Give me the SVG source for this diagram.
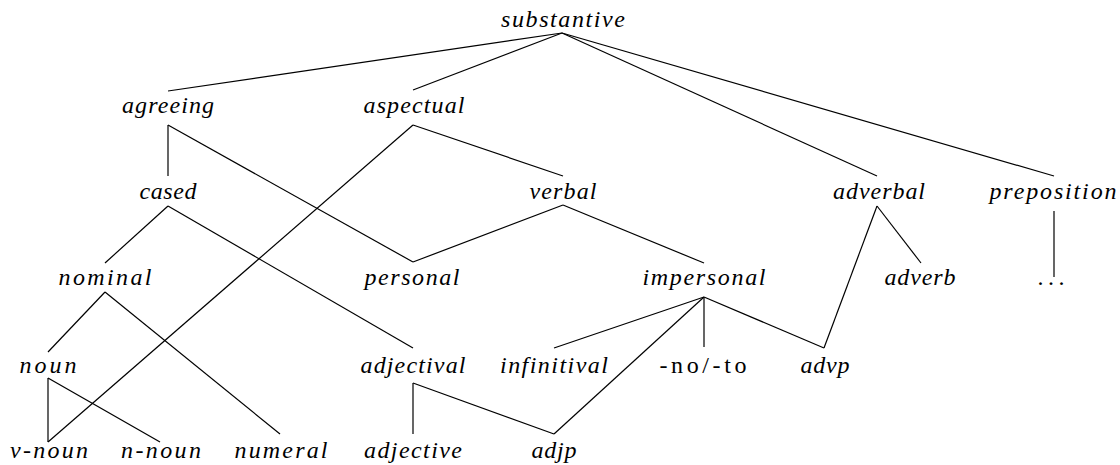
<svg xmlns="http://www.w3.org/2000/svg" width="1120" height="465" viewBox="0 0 1120 465">
<style>
text{font-family:"Liberation Serif","DejaVu Serif","Times New Roman",serif;font-size:24px;font-style:italic;fill:#000;text-anchor:middle}
text.rm{font-style:normal}
#edges line{stroke:#000;stroke-width:1.2;fill:none}
</style>
<rect width="1120" height="465" fill="#fff"/>
<g id="edges">
<line x1="562" y1="33" x2="168" y2="91"/>
<line x1="562" y1="33" x2="413" y2="90"/>
<line x1="562" y1="33" x2="877" y2="176"/>
<line x1="562" y1="33" x2="1054" y2="176"/>
<line x1="168" y1="125" x2="168" y2="176"/>
<line x1="168" y1="125" x2="413" y2="262"/>
<line x1="413" y1="125" x2="563" y2="176"/>
<line x1="413" y1="125" x2="48" y2="442"/>
<line x1="168" y1="206" x2="105" y2="263"/>
<line x1="168" y1="206" x2="413" y2="348"/>
<line x1="563" y1="205" x2="413" y2="262"/>
<line x1="563" y1="205" x2="704" y2="263"/>
<line x1="877" y1="206" x2="921" y2="263"/>
<line x1="877" y1="206" x2="824" y2="348"/>
<line x1="1054" y1="211" x2="1054" y2="277"/>
<line x1="105" y1="292" x2="48" y2="352"/>
<line x1="105" y1="292" x2="280" y2="434"/>
<line x1="704" y1="297" x2="554" y2="348"/>
<line x1="704" y1="297" x2="704" y2="347"/>
<line x1="704" y1="297" x2="824" y2="348"/>
<line x1="704" y1="297" x2="554" y2="434"/>
<line x1="48" y1="378" x2="48" y2="442"/>
<line x1="48" y1="378" x2="160" y2="442"/>
<line x1="413" y1="383" x2="413" y2="434"/>
<line x1="413" y1="383" x2="554" y2="434"/>
</g>
<g id="substantive"><text x="563" y="27" textLength="124" lengthAdjust="spacing">substantive</text></g>
<g id="agreeing"><text x="168" y="113" textLength="92" lengthAdjust="spacing">agreeing</text></g>
<g id="aspectual"><text x="414" y="113" textLength="101" lengthAdjust="spacing">aspectual</text></g>
<g id="cased"><text x="168" y="199" textLength="57" lengthAdjust="spacing">cased</text></g>
<g id="verbal"><text x="563" y="199" textLength="67" lengthAdjust="spacing">verbal</text></g>
<g id="adverbal"><text x="879" y="199" textLength="92" lengthAdjust="spacing">adverbal</text></g>
<g id="preposition"><text x="1053" y="199" textLength="127" lengthAdjust="spacing">preposition</text></g>
<g id="nominal"><text x="105" y="285" textLength="93" lengthAdjust="spacing">nominal</text></g>
<g id="personal"><text x="412" y="285" textLength="95" lengthAdjust="spacing">personal</text></g>
<g id="impersonal"><text x="704" y="285" textLength="123" lengthAdjust="spacing">impersonal</text></g>
<g id="adverb"><text x="920" y="285" textLength="71" lengthAdjust="spacing">adverb</text></g>
<g id="ellipsis"><text class="rm" x="1051" y="285" textLength="27" lengthAdjust="spacing">...</text></g>
<g id="noun"><text x="48" y="373" textLength="57" lengthAdjust="spacing">noun</text></g>
<g id="adjectival"><text x="413" y="373" textLength="105" lengthAdjust="spacing">adjectival</text></g>
<g id="infinitival"><text x="554" y="373" textLength="108" lengthAdjust="spacing">infinitival</text></g>
<g id="no-to"><text class="rm" x="703" y="373" textLength="87" lengthAdjust="spacing">-no/-to</text></g>
<g id="advp"><text x="825" y="373" textLength="49" lengthAdjust="spacing">advp</text></g>
<g id="v-noun"><text x="49" y="458" textLength="78" lengthAdjust="spacing">v-noun</text></g>
<g id="n-noun"><text x="161" y="458" textLength="80" lengthAdjust="spacing">n-noun</text></g>
<g id="numeral"><text x="281" y="458" textLength="93" lengthAdjust="spacing">numeral</text></g>
<g id="adjective"><text x="413" y="458" textLength="98" lengthAdjust="spacing">adjective</text></g>
<g id="adjp"><text x="554" y="458" textLength="45" lengthAdjust="spacing">adjp</text></g>
</svg>
